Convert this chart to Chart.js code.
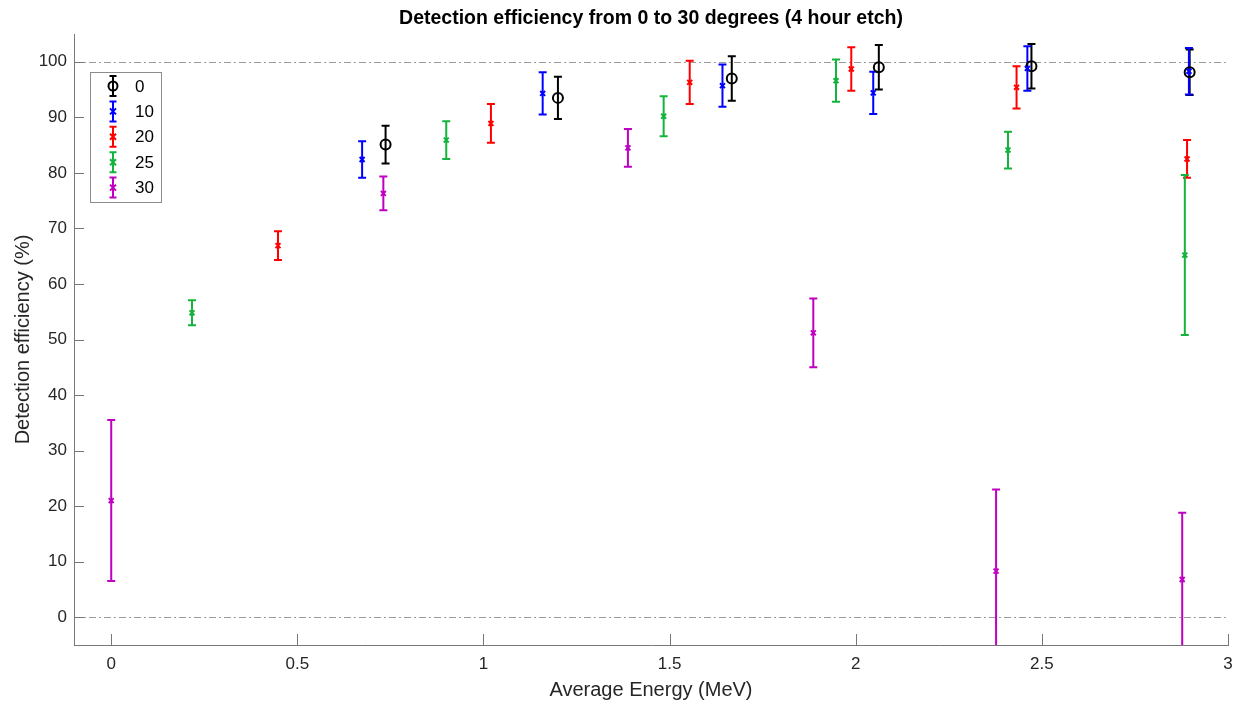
<!DOCTYPE html>
<html>
<head>
<meta charset="utf-8">
<script src="https://cdn.jsdelivr.net/npm/chart.js@4.4.0/dist/chart.umd.min.js"></script>
<style>
  html, body { margin: 0; padding: 0; background: #fff; }
  #wrap { width: 1248px; height: 708px; }
</style>
</head>
<body>
<div id="wrap"><canvas id="myChart"></canvas></div>
<script>
// angles (legend labels) and colours
const angles = ['0', '10', '20', '25', '30'];
const colors = ['#000000', '#0000ff', '#ff0000', '#14b43c', '#c000c0'];

// average energy (MeV), efficiency (%), error (%) for each angle
const energy0 = [0.737, 1.2, 1.667, 2.062, 2.472, 2.897];
const eff0 = [85.1, 93.5, 97.0, 99.0, 99.2, 98.1];
const err0 = [3.4, 3.8, 4.0, 4.0, 4.0, 4.1];

const energy10 = [0.674, 1.159, 1.642, 2.047, 2.461, 2.895];
const eff10 = [82.4, 94.3, 95.7, 94.4, 98.8, 98.3];
const err10 = [3.3, 3.8, 3.8, 3.8, 4.0, 4.2];

const energy20 = [0.448, 1.02, 1.554, 1.988, 2.432, 2.89];
const eff20 = [66.9, 88.9, 96.3, 98.7, 95.4, 82.5];
const err20 = [2.6, 3.5, 3.9, 3.9, 3.8, 3.4];

const energy25 = [0.217, 0.90, 1.484, 1.947, 2.409, 2.884];
const eff25 = [54.8, 85.9, 90.2, 96.6, 84.1, 65.2];
const err25 = [2.25, 3.4, 3.6, 3.8, 3.3, 14.4];

const energy30 = [0, 0.731, 1.388, 1.886, 2.377, 2.877];
const eff30 = [21.0, 76.3, 84.5, 51.2, 8.3, 6.8];
const err30 = [14.5, 3.05, 3.4, 6.2, 14.7, 12.0];

const xTicks = [0, 0.5, 1, 1.5, 2, 2.5, 3];
const yTicks = [0, 10, 20, 30, 40, 50, 60, 70, 80, 90, 100];
const refLines = [0, 100];

const energies = [energy0, energy10, energy20, energy25, energy30];
const effs = [eff0, eff10, eff20, eff25, eff30];
const errs = [err0, err10, err20, err25, err30];

const FONT = 'Liberation Sans, Arial, Helvetica, sans-serif';
const AXIS = '#777777';

const datasets = angles.map((a, i) => ({
  label: a,
  data: energies[i].map((x, j) => ({ x: x, y: effs[i][j] })),
  errors: errs[i],
  borderColor: colors[i],
  backgroundColor: i === 0 ? 'rgba(0,0,0,0)' : colors[i],
  pointStyle: i === 0 ? 'circle' : 'crossRot',
  pointRadius: i === 0 ? 5 : 3.5,
  pointBorderWidth: 2,
  showLine: false,
  order: angles.length - i
}));

// dash-dot reference lines at 0 and 100
const refLinePlugin = {
  id: 'refLines',
  beforeDatasetsDraw(chart) {
    const ctx = chart.ctx;
    const a = chart.chartArea;
    const y = chart.scales.y;
    ctx.save();
    ctx.strokeStyle = '#9a9a9a';
    ctx.lineWidth = 1;
    ctx.setLineDash([7, 3, 2, 3]);
    refLines.forEach(v => {
      const py = Math.round(y.getPixelForValue(v)) + 0.5;
      ctx.beginPath();
      ctx.moveTo(a.left, py);
      ctx.lineTo(a.right, py);
      ctx.stroke();
    });
    ctx.restore();
  }
};

// vertical error bars with caps
const errorBarPlugin = {
  id: 'errorBars',
  beforeDatasetsDraw(chart) {
    const ctx = chart.ctx;
    const a = chart.chartArea;
    const xs = chart.scales.x;
    const ys = chart.scales.y;
    ctx.save();
    ctx.beginPath();
    ctx.rect(a.left, a.top, a.right - a.left, a.bottom - a.top);
    ctx.clip();
    chart.data.datasets.forEach(ds => {
      ctx.strokeStyle = ds.borderColor;
      ctx.lineWidth = 2;
      ds.data.forEach((p, i) => {
        const px = xs.getPixelForValue(p.x);
        const top = ys.getPixelForValue(p.y + ds.errors[i]);
        const bot = ys.getPixelForValue(p.y - ds.errors[i]);
        ctx.beginPath();
        ctx.moveTo(px, top); ctx.lineTo(px, bot);
        ctx.moveTo(px - 4, top); ctx.lineTo(px + 4, top);
        ctx.moveTo(px - 4, bot); ctx.lineTo(px + 4, bot);
        ctx.stroke();
      });
    });
    ctx.restore();
  }
};

// matlab style inward tick marks
const innerTicksPlugin = {
  id: 'innerTicks',
  afterDraw(chart) {
    const ctx = chart.ctx;
    const a = chart.chartArea;
    const xs = chart.scales.x;
    const ys = chart.scales.y;
    ctx.save();
    ctx.strokeStyle = AXIS;
    ctx.lineWidth = 1;
    xTicks.forEach(v => {
      const px = Math.round(xs.getPixelForValue(v)) + 0.5;
      ctx.beginPath();
      ctx.moveTo(px, a.bottom);
      ctx.lineTo(px, a.bottom - 11);
      ctx.stroke();
    });
    yTicks.forEach(v => {
      const py = Math.round(ys.getPixelForValue(v)) + 0.5;
      ctx.beginPath();
      ctx.moveTo(a.left, py);
      ctx.lineTo(a.left + 10, py);
      ctx.stroke();
    });
    ctx.restore();
  }
};

// legend box in the top left corner of the axes
const boxLegendPlugin = {
  id: 'boxLegend',
  afterDraw(chart) {
    const ctx = chart.ctx;
    const left = 90, top = 72, w = 71, h = 130, rowH = 25.4;
    ctx.save();
    ctx.fillStyle = '#ffffff';
    ctx.fillRect(left, top, w, h);
    ctx.strokeStyle = '#8c8c8c';
    ctx.lineWidth = 1;
    ctx.strokeRect(left + 0.5, top + 0.5, w, h);
    chart.data.datasets.forEach((ds, i) => {
      const cy = top + 14 + i * rowH;
      const cx = left + 23;
      ctx.strokeStyle = ds.borderColor;
      ctx.lineWidth = 2;
      ctx.beginPath();
      ctx.moveTo(cx, cy - 10); ctx.lineTo(cx, cy + 10);
      ctx.moveTo(cx - 3.5, cy - 10); ctx.lineTo(cx + 3.5, cy - 10);
      ctx.moveTo(cx - 3.5, cy + 10); ctx.lineTo(cx + 3.5, cy + 10);
      ctx.stroke();
      ctx.beginPath();
      if (i === 0) {
        ctx.arc(cx, cy, 4.5, 0, Math.PI * 2);
      } else {
        ctx.moveTo(cx - 3, cy - 3); ctx.lineTo(cx + 3, cy + 3);
        ctx.moveTo(cx - 3, cy + 3); ctx.lineTo(cx + 3, cy - 3);
      }
      ctx.stroke();
      ctx.fillStyle = '#000000';
      ctx.font = '17px ' + FONT;
      ctx.textAlign = 'left';
      ctx.textBaseline = 'middle';
      ctx.fillText(ds.label, left + 45, cy + 1);
    });
    ctx.restore();
  }
};

const chart = new Chart(document.getElementById('myChart'), {
  type: 'scatter',
  data: { datasets: datasets },
  options: {
    responsive: true,
    maintainAspectRatio: false,
    devicePixelRatio: 1,
    animation: false,
    layout: { padding: { left: 0, right: 20, top: 0, bottom: 0 } },
    plugins: {
      legend: { display: false },
      tooltip: { enabled: false },
      title: {
        display: true,
        text: 'Detection efficiency from 0 to 30 degrees (4 hour etch)',
        fullSize: false,
        color: '#000000',
        font: { family: FONT, size: 19.5, weight: 'bold' },
        padding: { top: 7, bottom: 3.6 }
      }
    },
    scales: {
      x: {
        type: 'linear',
        min: -0.1,
        max: 3,
        afterFit: s => { s.height = 63; },
        afterBuildTicks: s => { s.ticks = xTicks.map(v => ({ value: v })); },
        grid: { display: false, drawTicks: false },
        border: { display: true, color: AXIS, width: 1 },
        ticks: {
          color: '#262626',
          font: { family: FONT, size: 17 },
          padding: 9,
          maxRotation: 0,
          callback: v => String(v)
        },
        title: {
          display: true,
          text: 'Average Energy (MeV)',
          color: '#262626',
          font: { family: FONT, size: 20 },
          padding: { top: 0, bottom: 6 }
        }
      },
      y: {
        type: 'linear',
        min: -5,
        max: 105,
        afterFit: s => { s.width = 74; },
        afterBuildTicks: s => { s.ticks = yTicks.map(v => ({ value: v })); },
        grid: { display: false, drawTicks: false },
        border: { display: true, color: AXIS, width: 1 },
        ticks: {
          color: '#262626',
          font: { family: FONT, size: 17 },
          padding: 7,
          callback: v => String(v)
        },
        title: {
          display: true,
          text: 'Detection efficiency (%)',
          color: '#262626',
          font: { family: FONT, size: 20 },
          padding: { top: 11, bottom: 0 }
        }
      }
    }
  },
  plugins: [refLinePlugin, errorBarPlugin, innerTicksPlugin, boxLegendPlugin]
});
</script>
</body>
</html>
